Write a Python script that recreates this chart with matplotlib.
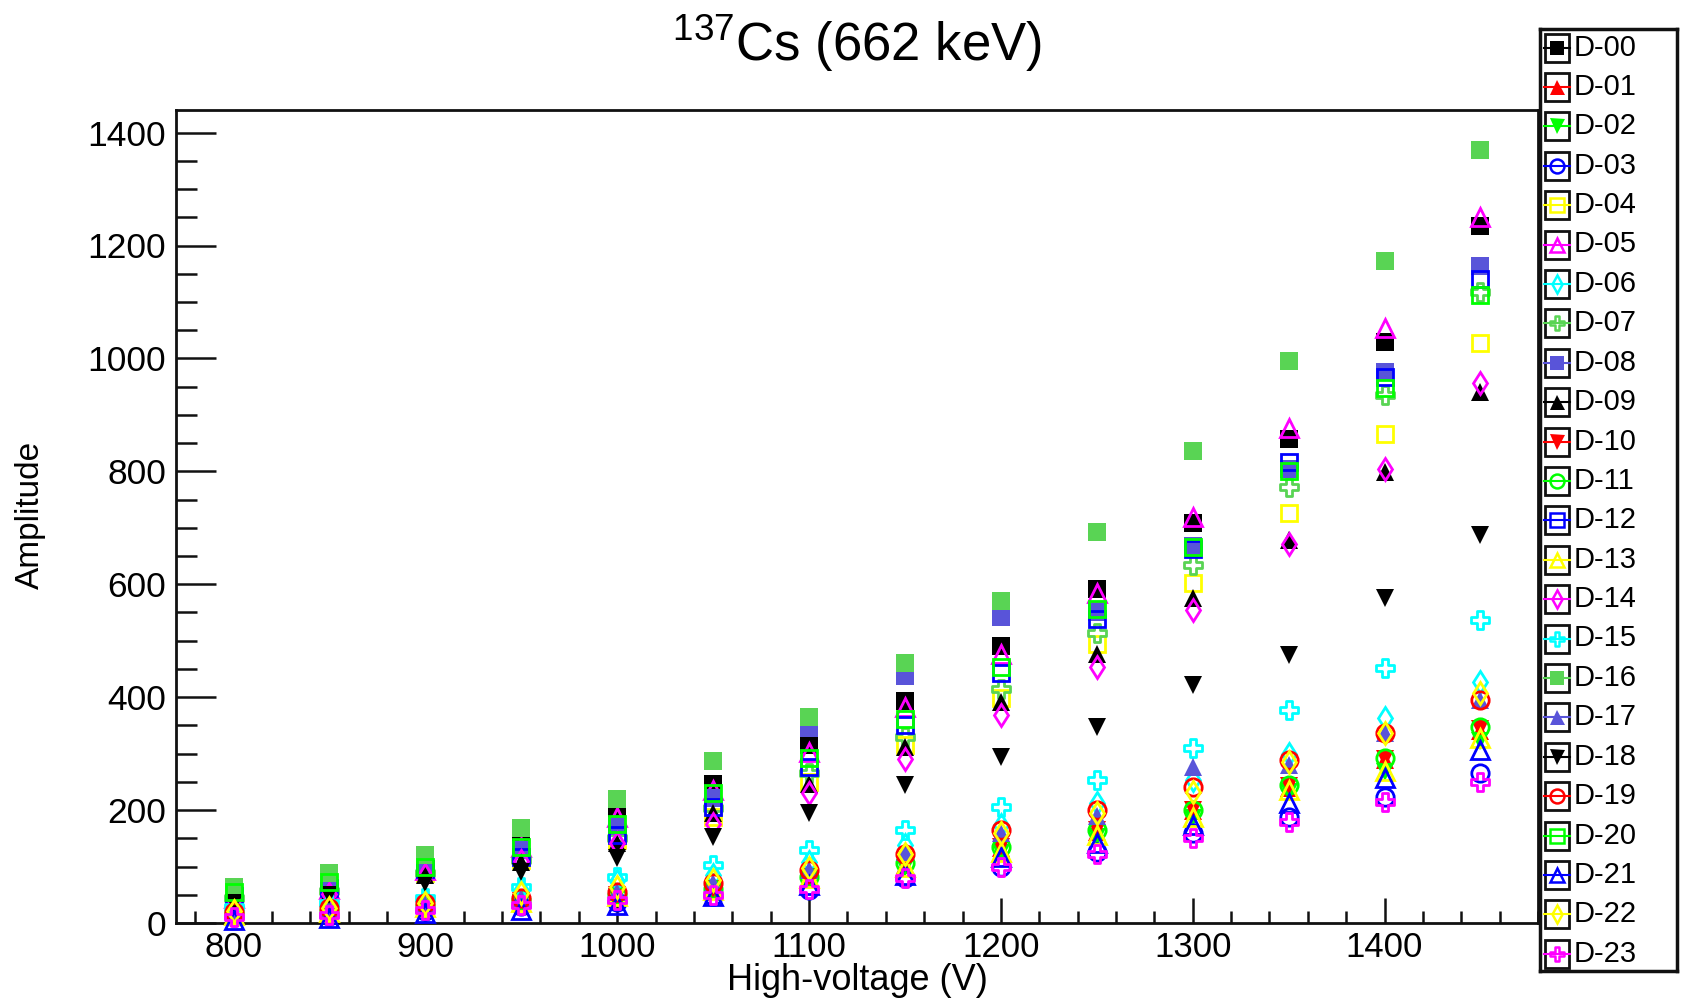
import matplotlib
matplotlib.use("Agg")
import matplotlib.pyplot as plt
from matplotlib.path import Path
from matplotlib.patches import Rectangle
from matplotlib.ticker import MultipleLocator

plt.rcParams['font.family'] = ['Liberation Sans', 'DejaVu Sans']
plt.rcParams['mathtext.fontset'] = 'custom'
plt.rcParams['mathtext.rm'] = 'Liberation Sans'
plt.rcParams['mathtext.it'] = 'Liberation Sans'

# high voltage steps (V)
voltages = [800, 850, 900, 950, 1000, 1050, 1100, 1150, 1200, 1250, 1300, 1350, 1400, 1450]

# amplitude per detector
d00 = [52, 67, 95, 147, 191, 247, 315, 393, 490, 592, 708, 858, 1029, 1235]
d01 = [16, 21, 28, 38, 48, 59, 80, 103, 132, 162, 198, 240, 288, 340]
d02 = [14, 19, 27, 36, 46, 57, 77, 98, 124, 153, 186, 232, 268, 322]
d03 = [10, 12, 22, 30, 38, 47, 58, 79, 100, 126, 159, 188, 223, 265]
d04 = [43, 55, 88, 111, 147, 188, 250, 315, 398, 495, 602, 726, 867, 1027]
d05 = [44, 60, 94, 135, 188, 235, 303, 383, 477, 584, 719, 876, 1053, 1250]
d06 = [26, 33, 40, 58, 75, 85, 108, 138, 173, 212, 253, 300, 363, 427]
d07 = [45, 56, 88, 111, 150, 203, 265, 330, 414, 514, 634, 772, 935, 1118]
d08 = [50, 62, 97, 129, 172, 222, 345, 437, 542, 551, 667, 805, 976, 1163]
d09 = [40, 53, 85, 108, 141, 194, 247, 312, 392, 477, 575, 678, 799, 940]
d10 = [17, 21, 29, 39, 49, 60, 81, 105, 134, 164, 200, 242, 290, 344]
d11 = [18, 22, 30, 40, 50, 61, 82, 106, 135, 165, 200, 244, 292, 347]
d12 = [48, 62, 95, 117, 156, 206, 277, 350, 442, 539, 663, 816, 967, 1140]
d13 = [15, 20, 28, 38, 48, 59, 79, 100, 126, 156, 188, 235, 270, 327]
d14 = [42, 52, 85, 110, 141, 176, 230, 291, 368, 454, 554, 672, 805, 956]
d15 = [29, 35, 44, 64, 82, 103, 129, 165, 206, 253, 310, 377, 451, 536]
d16 = [63, 88, 120, 168, 219, 287, 365, 460, 570, 693, 836, 995, 1173, 1369]
d17 = [19, 25, 33, 45, 55, 71, 94, 125, 160, 190, 277, 280, 336, 395]
d18 = [35, 49, 70, 91, 115, 153, 194, 244, 294, 347, 421, 474, 575, 687]
d19 = [20, 26, 35, 44, 55, 71, 94, 123, 165, 200, 241, 288, 336, 395]
d20 = [55, 73, 100, 135, 176, 230, 292, 362, 454, 557, 666, 800, 947, 1112]
d21 = [5, 8, 17, 23, 32, 47, 67, 85, 117, 141, 173, 212, 256, 306]
d22 = [22, 27, 35, 53, 64, 76, 97, 123, 160, 194, 232, 285, 336, 407]
d23 = [11, 14, 23, 32, 41, 50, 61, 79, 100, 122, 150, 179, 215, 250]

amplitudes = [d00, d01, d02, d03, d04, d05, d06, d07, d08, d09, d10, d11,
              d12, d13, d14, d15, d16, d17, d18, d19, d20, d21, d22, d23]
names = ['D-%02d' % i for i in range(len(amplitudes))]

# ROOT colours 1..9 and markers 21..28
root_colors = ['#000000', '#ff0000', '#00ff00', '#0000ff', '#ffff00',
               '#ff00ff', '#00ffff', '#59d454', '#5954d9']

a = 0.32
cross = Path([(-a, 1), (a, 1), (a, a), (1, a), (1, -a), (a, -a), (a, -1),
              (-a, -1), (-a, -a), (-1, -a), (-1, a), (-a, a), (-a, 1)],
             closed=True)
# (marker, filled, size)
root_markers = [('s', True, 12.5), ('^', True, 13.5), ('v', True, 13.5),
                ('o', False, 12.5), ('s', False, 12), ('^', False, 13),
                ('d', False, 11.5), (cross, False, 13)]


def style(i):
    color = root_colors[i % 9]
    m, filled, size = root_markers[i % 8]
    return color, m, filled, size


fig = plt.figure(figsize=(16.92, 10), dpi=100)
ax = fig.add_axes([176 / 1692, 0.077, (1538 - 176) / 1692, 0.813])

for i, vals in enumerate(amplitudes):
    color, m, filled, size = style(i)
    ax.plot(voltages, vals, linestyle='none', marker=m, markersize=size,
            markerfacecolor=color if filled else 'none',
            markeredgecolor=color, markeredgewidth=0 if filled else 2.0,
            clip_on=False, zorder=3 + i)

ax.set_xlim(770, 1480)
ax.set_ylim(0, 1440)
ax.xaxis.set_major_locator(MultipleLocator(100))
ax.xaxis.set_minor_locator(MultipleLocator(20))
ax.yaxis.set_major_locator(MultipleLocator(200))
ax.yaxis.set_minor_locator(MultipleLocator(50))
ax.tick_params(axis='both', which='both', direction='in', width=1.8,
               color='#111111')
ax.tick_params(axis='y', which='major', length=29, pad=7, labelsize=25.5)
ax.tick_params(axis='y', which='minor', length=15)
ax.tick_params(axis='x', which='major', length=18, pad=6, labelsize=25)
ax.tick_params(axis='x', which='minor', length=9)
for sp in ax.spines.values():
    sp.set_linewidth(2.0)
    sp.set_color('#111111')

fig.text(30 / 1692, 1 - 515 / 1000, 'Amplitude', rotation=90, fontsize=24,
         ha='center', va='center')
fig.text(857 / 1692, 1 - 980 / 1000, 'High-voltage (V)', fontsize=26,
         ha='center', va='center')
fig.text(857 / 1692, 1 - 43 / 1000, r'$^{\mathrm{137}}$Cs (662 keV)',
         fontsize=38, ha='center', va='center')

# legend drawn ROOT-style: box + line + marker per entry
lx0, lx1, ly0, ly1 = 1540, 1677, 29, 971
lax = fig.add_axes([lx0 / 1692, 1 - ly1 / 1000, (lx1 - lx0) / 1692, (ly1 - ly0) / 1000])
lax.set_xlim(0, lx1 - lx0)
lax.set_ylim(ly1 - ly0, 0)
lax.set_xticks([])
lax.set_yticks([])
lax.set_zorder(10)
for sp in lax.spines.values():
    sp.set_linewidth(2.5)
    sp.set_color('#111111')

for i, name in enumerate(names):
    color, m, filled, size = style(i)
    yc = 47.5 - ly0 + 39.4 * i
    lax.add_patch(Rectangle((5, yc - 14), 24, 28, fill=False, lw=2.0,
                            edgecolor='#111111'))
    lax.plot([4, 30], [yc, yc], color=color, lw=1.5)
    lax.plot([17], [yc], linestyle='none', marker=m, markersize=size * 0.8,
             markerfacecolor=color if filled else 'none',
             markeredgecolor=color, markeredgewidth=0 if filled else 1.8)
    lax.text(34, yc, name, fontsize=21, ha='left', va='center')

fig.savefig('out.png', dpi=100)
